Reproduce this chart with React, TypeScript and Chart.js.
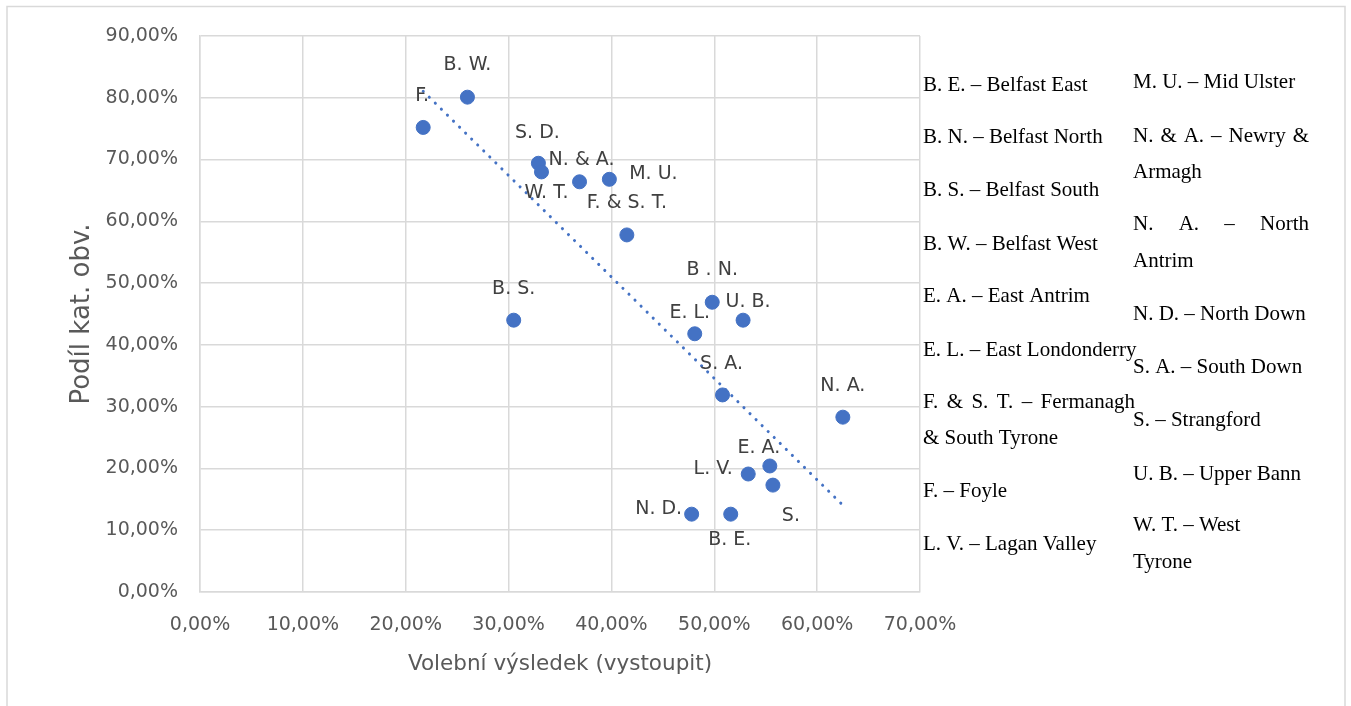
import React, { useEffect, useRef } from "react";
import { Chart, registerables } from "chart.js";

Chart.register(...registerables);

// ---- data ----
const pointLabels = ["F.", "B. W.", "S. D.", "W. T.", "N. & A.", "M. U.", "F. & S. T.", "B. S.", "B . N.", "U. B.", "E. L.", "S. A.", "N. A.", "E. A.", "L. V.", "S.", "N. D.", "B. E."];
const turnout = [21.7, 26.0, 32.9, 33.2, 36.9, 39.8, 41.5, 30.5, 49.8, 52.8, 48.1, 50.8, 62.5, 55.4, 53.3, 55.7, 47.8, 51.6];
const share = [75.2, 80.1, 69.4, 68.0, 66.4, 66.8, 57.8, 44.0, 46.9, 44.0, 41.8, 31.9, 28.3, 20.4, 19.1, 17.3, 12.6, 12.6];

const xTitle = "Volební výsledek (vystoupit)";
const yTitle = "Podíl kat. obv.";

const legendCol1 = ["B. E. – Belfast East", "B. N. – Belfast North", "B. S. – Belfast South", "B. W. – Belfast West", "E. A. – East Antrim", "E. L. – East Londonderry", "F. & S. T. – Fermanagh", "& South Tyrone", "F. – Foyle", "L. V. – Lagan Valley"];
const legendCol2 = ["M. U. – Mid Ulster", "N. & A. – Newry &", "Armagh", "N. A. – North", "Antrim", "N. D. – North Down", "S. A. – South Down", "S. – Strangford", "U. B. – Upper Bann", "W. T. – West", "Tyrone"];

// ---- layout (pixels) ----
const labelOffsets: [number, number][] = [
  [-1, -31], [0, -32], [-1, -30], [5, 21], [2, -22], [44, -5], [0, -32], [0, -31], [0, -32],
  [5, -18], [-5, -21], [-1, -31], [0, -31], [-11, -18], [-35, -5], [18, 31], [-33, -5], [-1, 26],
];
const col1Y = [84, 136, 189, 243, 295, 349, 401, 437, 490, 543];
const col1Justify = [0, 0, 0, 0, 0, 0, 1135, 0, 0, 0];
const col2Y = [81, 135, 171, 223, 260, 313, 366, 419, 473, 524, 561];
const col2Justify = [0, 1309, 0, 1309, 0, 0, 0, 0, 0, 0, 0];

function regression(xs: number[], ys: number[]) {
  const n = xs.length;
  const mx = xs.reduce((a, b) => a + b, 0) / n;
  const my = ys.reduce((a, b) => a + b, 0) / n;
  let sxy = 0, sxx = 0;
  for (let i = 0; i < n; i++) {
    sxy += (xs[i] - mx) * (ys[i] - my);
    sxx += (xs[i] - mx) * (xs[i] - mx);
  }
  const slope = sxy / sxx;
  return { slope, intercept: my - slope * mx };
}

const fmt = (v: any) => Number(v).toFixed(2).replace(".", ",") + "%";

export default function App() {
  const ref = useRef<HTMLCanvasElement | null>(null);

  useEffect(() => {
    const canvas = ref.current;
    if (!canvas) return;
    const { slope, intercept } = regression(turnout, share);
    const xMin = Math.min(...turnout);
    const xMax = Math.max(...turnout);
    const trend = [
      { x: xMin, y: intercept + slope * xMin },
      { x: xMax, y: intercept + slope * xMax },
    ];

    const framePlugin = {
      id: "frame",
      beforeDraw(chart: any) {
        const ctx = chart.ctx;
        ctx.save();
        ctx.fillStyle = "#ffffff";
        ctx.fillRect(0, 0, chart.width, chart.height);
        ctx.strokeStyle = "#d9d9d9";
        ctx.lineWidth = 1.5;
        ctx.strokeRect(7, 6.5, 1338, 760);
        ctx.restore();
      },
    };

    const labelPlugin = {
      id: "pointLabels",
      afterDatasetsDraw(chart: any) {
        const ctx = chart.ctx;
        const meta = chart.getDatasetMeta(1);
        ctx.save();
        ctx.font = "19px 'DejaVu Sans'";
        ctx.fillStyle = "#404040";
        ctx.textAlign = "center";
        ctx.textBaseline = "middle";
        meta.data.forEach((el: any, i: number) => {
          const [dx, dy] = labelOffsets[i];
          ctx.fillText(pointLabels[i], el.x + dx, el.y + dy);
        });
        ctx.restore();
      },
    };

    const drawLine = (ctx: any, text: string, x: number, cy: number, justifyTo: number) => {
      const base = cy + 7;
      if (!justifyTo) {
        ctx.fillText(text, x, base);
        return;
      }
      const words = text.split(" ");
      const widths = words.map((w) => ctx.measureText(w).width);
      const total = widths.reduce((a, b) => a + b, 0);
      const gap = (justifyTo - x - total) / (words.length - 1);
      let cx = x;
      words.forEach((w, i) => {
        ctx.fillText(w, cx, base);
        cx += widths[i] + gap;
      });
    };

    const legendPlugin = {
      id: "sideLegend",
      afterDraw(chart: any) {
        const ctx = chart.ctx;
        ctx.save();
        ctx.font = "21px 'Liberation Serif'";
        ctx.fillStyle = "#000000";
        ctx.textAlign = "left";
        ctx.textBaseline = "alphabetic";
        legendCol1.forEach((t, i) => drawLine(ctx, t, 923, col1Y[i], col1Justify[i]));
        legendCol2.forEach((t, i) => drawLine(ctx, t, 1133, col2Y[i], col2Justify[i]));
        ctx.restore();
      },
    };

    const tickFont = { family: "'DejaVu Sans'", size: 19 };

    const chart = new Chart(canvas, {
      type: "scatter",
      data: {
        datasets: [
          {
            type: "line",
            data: trend,
            borderColor: "#4472C4",
            borderWidth: 3,
            borderDash: [0.1, 8.4],
            borderCapStyle: "round",
            pointRadius: 0,
            fill: false,
          } as any,
          {
            data: turnout.map((x, i) => ({ x, y: share[i] })),
            backgroundColor: "#4472C4",
            borderColor: "#4472C4",
            borderWidth: 1,
            pointRadius: 7,
          },
        ],
      },
      options: {
        responsive: false,
        animation: false,
        layout: { padding: { left: 0, top: 36, right: 431, bottom: 0 } },
        plugins: { legend: { display: false }, tooltip: { enabled: false } },
        scales: {
          x: {
            type: "linear",
            min: 0,
            max: 70,
            ticks: { stepSize: 10, callback: fmt, color: "#595959", font: tickFont, padding: 22, maxRotation: 0, autoSkip: false },
            grid: { color: "#d9d9d9", lineWidth: 1.5, drawTicks: false },
            border: { color: "#d9d9d9", width: 1.5 },
            title: { display: true, text: xTitle, color: "#595959", font: { family: "'DejaVu Sans'", size: 21.5 }, padding: { top: 0, bottom: 29 } },
            afterFit: (s: any) => { s.height = 114; },
          },
          y: {
            type: "linear",
            min: 0,
            max: 90,
            ticks: { stepSize: 10, callback: fmt, color: "#595959", font: tickFont, padding: 22 },
            grid: { color: "#d9d9d9", lineWidth: 1.5, drawTicks: false },
            border: { color: "#d9d9d9", width: 1.5 },
            title: { display: true, text: yTitle, color: "#595959", font: { family: "'DejaVu Sans'", size: 26 }, padding: { top: 67, bottom: 0 } },
            afterFit: (s: any) => { s.width = 200; },
          },
        },
      } as any,
      plugins: [framePlugin, labelPlugin, legendPlugin],
    });
    return () => chart.destroy();
  }, []);

  return (
    <div style={{ position: "fixed", left: 0, top: 0, width: 1351, height: 706, background: "#fff" }}>
      <canvas ref={ref} width={1351} height={706} style={{ width: 1351, height: 706, display: "block" }} />
    </div>
  );
}
